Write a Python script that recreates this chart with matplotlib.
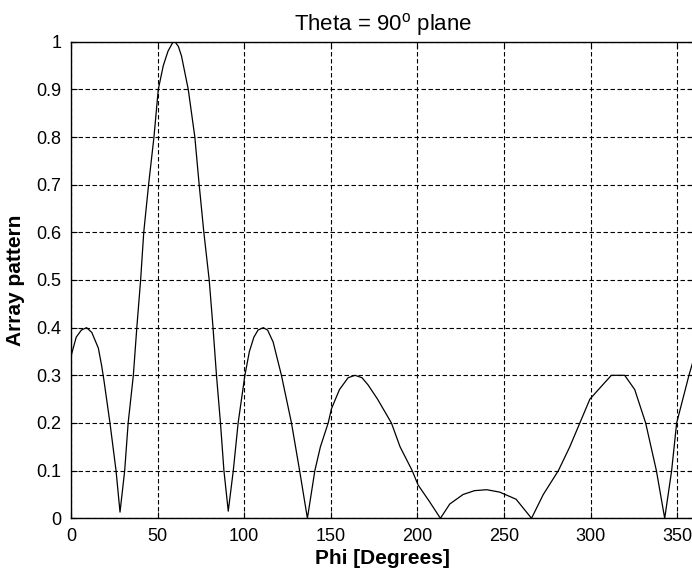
import numpy as np
import matplotlib
matplotlib.use("Agg")
import matplotlib.pyplot as plt

plt.rcParams['font.family'] = ['Liberation Sans', 'DejaVu Sans']

# array factor in the theta = 90 deg plane, sampled in phi (degrees)
phi = [0, 3, 6, 9, 12, 15.8, 17.7, 19, 22.5, 26, 28.3, 31, 33, 36, 38, 40.2,
       42, 44.8, 47.9, 50.4, 53.3, 56, 59, 60, 62, 63.8, 67.7, 71.5, 74, 76.7,
       79.8, 82, 84, 86.3, 88.3, 90.8, 93.7, 96.5, 100.4, 103, 105.6, 108, 111,
       113.5, 116.7, 121.5, 127.3, 132, 136.5, 140.8, 144, 148.5, 150.4, 155,
       160, 164, 168, 171.5, 177, 185, 190, 197, 200.4, 207, 213.3, 218.7,
       226.4, 233, 240, 247.5, 257, 265.9, 272.7, 281.4, 288, 293.8, 299.6,
       307, 312, 316, 319.7, 325.5, 331.8, 338, 342.8, 346.8, 349.7, 356.8, 360]
pattern = [0.34, 0.38, 0.395, 0.40, 0.39, 0.357, 0.32, 0.29, 0.20, 0.10, 0.013,
           0.10, 0.20, 0.30, 0.40, 0.50,
           0.60, 0.70, 0.80, 0.90, 0.95, 0.98, 1.0, 1.0, 0.99, 0.97, 0.90, 0.80,
           0.70, 0.60,
           0.50, 0.40, 0.30, 0.20, 0.10, 0.015, 0.10, 0.20, 0.30, 0.35, 0.38,
           0.395, 0.40,
           0.395, 0.37, 0.30, 0.20, 0.10, 0.0, 0.10, 0.15, 0.20, 0.23, 0.27,
           0.295, 0.30, 0.295, 0.28, 0.25, 0.20, 0.15, 0.10, 0.07, 0.035, 0.0,
           0.03,
           0.05, 0.058, 0.06, 0.055, 0.04, 0.0, 0.05, 0.10, 0.15, 0.20, 0.25,
           0.28, 0.30, 0.30, 0.30, 0.27, 0.20, 0.10, 0.0, 0.10, 0.20, 0.30, 0.34]

xticks = [0, 50, 100, 150, 200, 250, 300, 350]
yticks = [0, 0.1, 0.2, 0.3, 0.4, 0.5, 0.6, 0.7, 0.8, 0.9, 1]
yticklabels = ['0', '0.1', '0.2', '0.3', '0.4', '0.5', '0.6', '0.7', '0.8', '0.9', '1']

fig = plt.figure(figsize=(6.92, 5.75), dpi=100)
ax = fig.add_axes([0.1026, 0.0986, 0.901, 0.8289])

ax.plot(phi, pattern, color='k', linewidth=0.9)

ax.set_xlim(0, 360)
ax.set_ylim(0, 1)
ax.set_xticks(xticks)
ax.set_xticklabels([str(t) for t in xticks])
ax.set_yticks(yticks)
ax.set_yticklabels(yticklabels)
ax.tick_params(direction='in', length=4, width=0.8, top=True, right=True,
               labelsize=13, pad=7)
ax.grid(True, color='k', linewidth=0.8, linestyle=(0, (4, 2.3)))
for s in ax.spines.values():
    s.set_linewidth(1.0)

ax.set_title(r'Theta = 90$^\mathregular{o}$ plane', fontsize=16, pad=8)
ax.set_xlabel('Phi [Degrees]', fontsize=15, fontweight='bold', labelpad=3)
ax.set_ylabel('Array pattern', fontsize=15, fontweight='bold', labelpad=8)

fig.savefig('out.png', dpi=100)
